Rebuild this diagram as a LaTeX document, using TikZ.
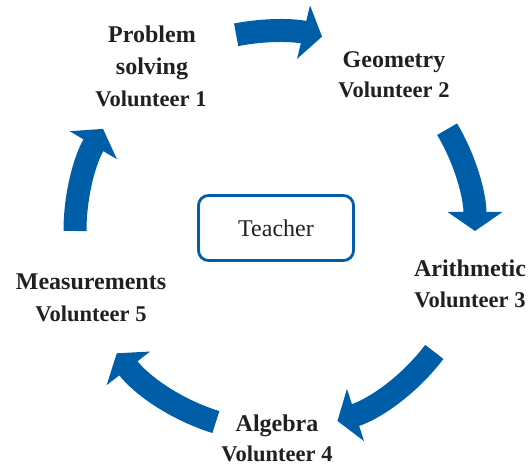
\documentclass[tikz,border=0pt]{standalone}
\usepackage{fontspec}
\setmainfont{Liberation Serif}
\usepackage{tikz}
\usetikzlibrary{arrows.meta}

\definecolor{cycblue}{RGB}{0,93,168}
\definecolor{inkgray}{RGB}{35,31,32}

\tikzset{
  topic/.style={anchor=base, text=inkgray, font=\bfseries\fontsize{24}{28}\selectfont},
  volunteer/.style={anchor=base, text=inkgray, font=\bfseries\fontsize{22.5}{27}\selectfont},
  teacherbox/.style={draw=cycblue, line width=2.8pt, rounded corners=10pt,
    minimum width=155pt, minimum height=65pt, text=inkgray,
    font=\fontsize{24}{28}\selectfont},
  cycarrow/.style={draw=cycblue, line width=23pt,
    -{Triangle[length=19pt,width=54pt]}}
}

\begin{document}
\begin{tikzpicture}[x=1pt,y=1pt]
      \useasboundingbox (0,0) rectangle (531,468);

      % centre of the cycle
      \coordinate (hub) at (275,237);
      \node[teacherbox] (teacher) at (276,240) {Teacher};

      % Problem solving
      \node[topic]     (ps1) at (152,425) {Problem};
      \node[topic]     (ps2) at (152,393) {solving};
      \node[volunteer] (v1)  at (151,361) {Volunteer 1};

      % Geometry
      \node[topic]     (geo) at (394,400) {Geometry};
      \node[volunteer] (v2)  at (394,370) {Volunteer 2};

      % Arithmetic
      \node[topic]     (ari) at (470,191) {Arithmetic};
      \node[volunteer] (v3)  at (470,160) {Volunteer 3};

      % Algebra
      \node[topic]     (alg) at (277,36) {Algebra};
      \node[volunteer] (v4)  at (277,6)  {Volunteer 4};

      % Measurements
      \node[topic]     (mea) at (91,178) {Measurements};
      \node[volunteer] (v5)  at (91,146) {Volunteer 5};

      % arrows round the cycle
      \draw[cycarrow] ([shift={(101.2:200pt)}]hub) arc[start angle=101.2, end angle=76.4, radius=200pt];
      \draw[cycarrow] ([shift={(30.6:200pt)}]hub)  arc[start angle=30.6, end angle=0, radius=200pt];
      \draw[cycarrow] ([shift={(-37.2:200pt)}]hub) arc[start angle=-37.2, end angle=-71.8, radius=200pt];
      \draw[cycarrow] ([shift={(-107.2:200pt)}]hub) arc[start angle=-107.2, end angle=-142.3, radius=200pt];
      \draw[cycarrow] ([shift={(180:200pt)}]hub)   arc[start angle=180, end angle=149.3, radius=200pt];
\end{tikzpicture}
\end{document}
